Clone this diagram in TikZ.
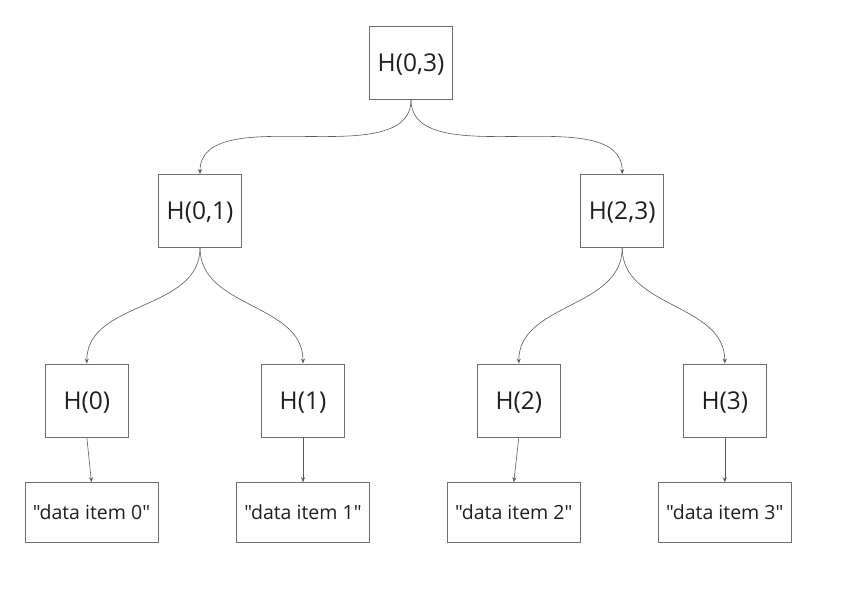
\documentclass[tikz,border=0pt]{standalone}
\usepackage{fontspec}
\setmainfont{Open Sans}[Ligatures=TeXOff]
\usetikzlibrary{arrows.meta}
\definecolor{boxgray}{HTML}{6E6E6E}
\definecolor{linegray}{HTML}{5A5A5A}
\definecolor{textdark}{HTML}{1E1E1E}
\begin{document}
\begin{tikzpicture}[x=1pt,y=-1pt,
  hbox/.style={draw=boxgray, line width=0.9pt, minimum width=83pt, minimum height=73pt,
    inner sep=0pt, text height=17.5pt, text depth=0pt, font=\fontsize{24.5}{29}\selectfont, text=textdark},
  dbox/.style={draw=boxgray, line width=0.9pt, minimum width=133pt, minimum height=60pt,
    inner sep=0pt, text height=14pt, text depth=0pt, font=\fontsize{19.5}{24}\selectfont, text=textdark},
  conn/.style={draw=linegray, line width=0.6pt, -{Stealth[length=5pt,width=4pt]}}]
\useasboundingbox (0,0) rectangle (841,593);
\node[hbox] (h03) at (411,62.7) {H(0,3)};
\node[hbox] (h01) at (200,211) {H(0,1)};
\node[hbox] (h23) at (622.2,211) {H(2,3)};
\node[hbox] (h0) at (86.8,400.5) {H(0)};
\node[hbox] (h1) at (303,400.5) {H(1)};
\node[hbox] (h2) at (518.8,400.5) {H(2)};
\node[hbox] (h3) at (724.8,400.5) {H(3)};
\node[dbox] (d0) at (91.5,512.7) {"data item 0"};
\node[dbox] (d1) at (303,512.7) {"data item 1"};
\node[dbox] (d2) at (513.8,512.7) {"data item 2"};
\node[dbox] (d3) at (724.8,512.7) {"data item 3"};
\draw[conn] (h03.south) .. controls +(0,75) and +(0,-75) .. (h01.north);
\draw[conn] (h03.south) .. controls +(0,75) and +(0,-75) .. (h23.north);
\draw[conn] (h01.south) to[out=-90,in=90] (h0.north);
\draw[conn] (h01.south) to[out=-90,in=90] (h1.north);
\draw[conn] (h23.south) to[out=-90,in=90] (h2.north);
\draw[conn] (h23.south) to[out=-90,in=90] (h3.north);
\draw[conn] (h0.south) -- (d0.north);
\draw[conn] (h1.south) -- (d1.north);
\draw[conn] (h2.south) -- (d2.north);
\draw[conn] (h3.south) -- (d3.north);
\end{tikzpicture}
\end{document}
